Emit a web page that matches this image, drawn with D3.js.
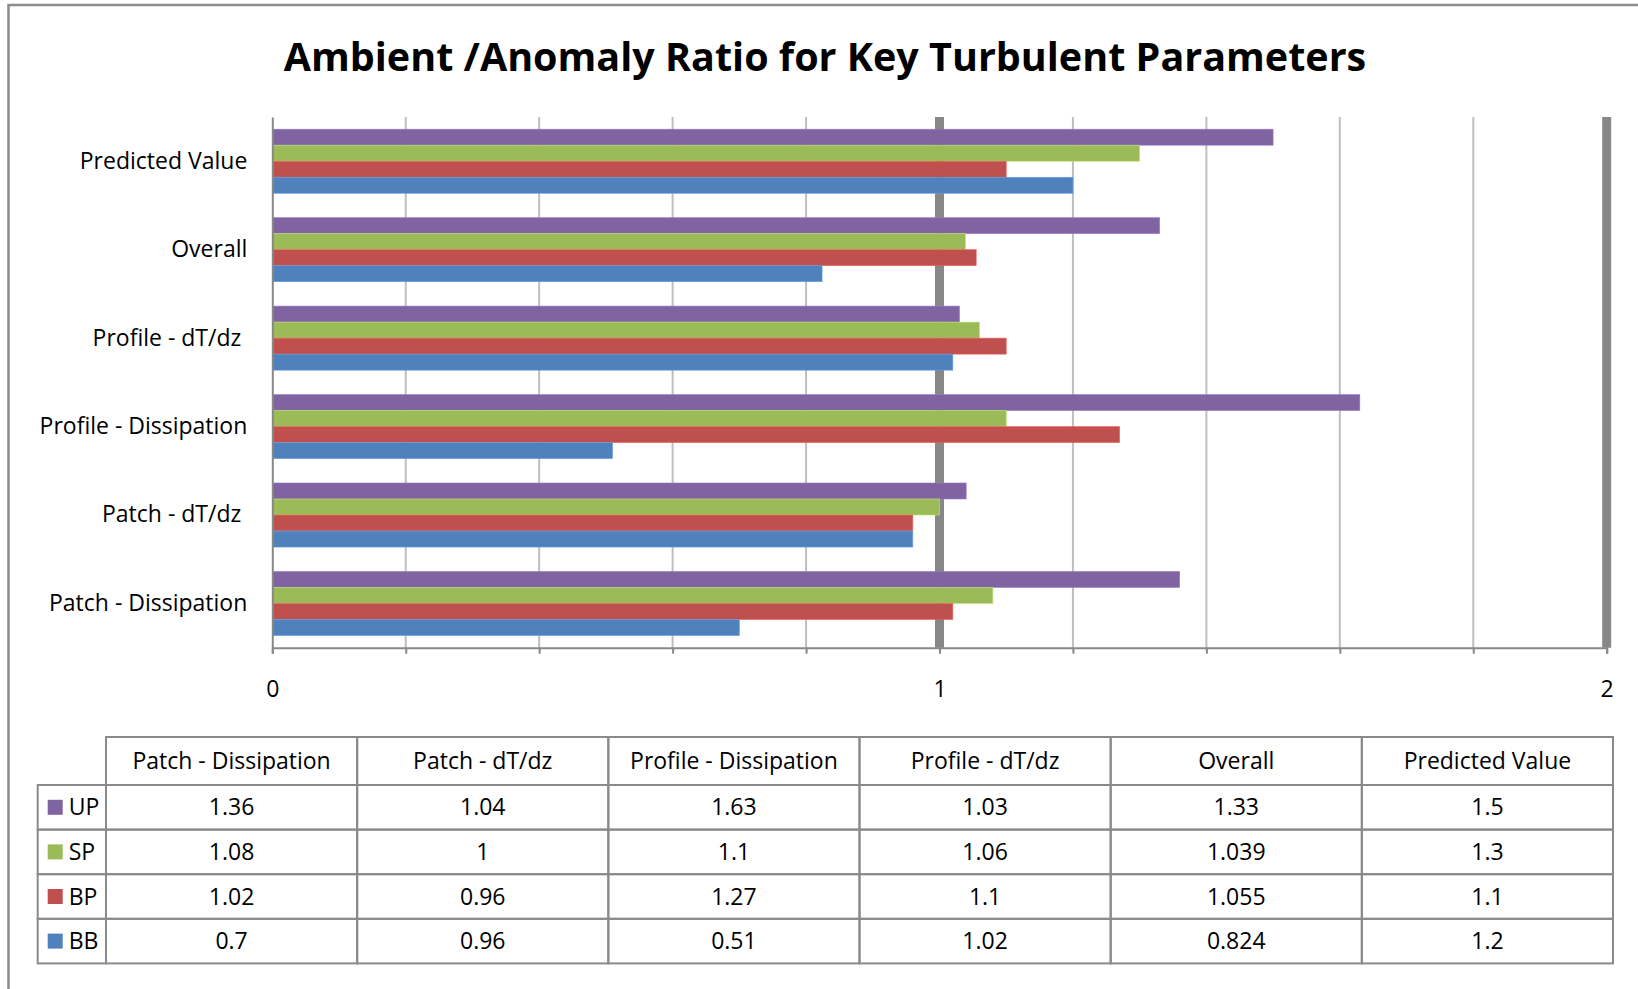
<!DOCTYPE html>
<html>
<head>
<meta charset="utf-8">
<script src="https://cdn.jsdelivr.net/npm/d3@7"></script>
<style>
  body { margin: 0; background: #fff; }
  text { font-family: "Open Sans", sans-serif; fill: #000; }
</style>
</head>
<body>
<div id="chart"></div>
<script>
// chart data
const categories = ['Patch - Dissipation', 'Patch - dT/dz', 'Profile - Dissipation', 'Profile - dT/dz', 'Overall', 'Predicted Value']
const seriesNames = ['UP', 'SP', 'BP', 'BB']
const UP = [1.36, 1.04, 1.63, 1.03, 1.33, 1.5]
const SP = [1.08, 1, 1.1, 1.06, 1.039, 1.3]
const BP = [1.02, 0.96, 1.27, 1.1, 1.055, 1.1]
const BB = [0.7, 0.96, 0.51, 1.02, 0.824, 1.2]
const UPLabels = ['1.36', '1.04', '1.63', '1.03', '1.33', '1.5']
const SPLabels = ['1.08', '1', '1.1', '1.06', '1.039', '1.3']
const BPLabels = ['1.02', '0.96', '1.27', '1.1', '1.055', '1.1']
const BBLabels = ['0.7', '0.96', '0.51', '1.02', '0.824', '1.2']
const xTicksMinor = [0, 0.2, 0.4, 0.6, 0.8, 1, 1.2, 1.4, 1.6, 1.8, 2]
const xTicksMajor = [0, 1, 2]
const title = 'Ambient /Anomaly Ratio for Key Turbulent Parameters'

const colors = { UP: '#8064A2', SP: '#9BBB59', BP: '#C0504D', BB: '#4F81BD' }
const values = { UP, SP, BP, BB }
const labels = { UP: UPLabels, SP: SPLabels, BP: BPLabels, BB: BBLabels }

const params = {
  fullWidth: 1638,
  fullHeight: 989,
  plotLeft: 272.3,
  plotRight: 1606.7,
  plotTop: 117,
  plotBottom: 647.7,
  tableLeft: 37.7,
  tableKey: 106,
  tableRight: 1613,
  tableTop: 737,
  headHeight: 48,
  rowHeight: 44.6,
  fontSize: 23
}

const svg = d3.select('#chart').append('svg')
  .attr('width', params.fullWidth)
  .attr('height', params.fullHeight)

// outer frame (only top and left edges show in the original)
svg.append('path')
  .attr('d', `M8.5,${params.fullHeight} V5 H${params.fullWidth}`)
  .attr('fill', 'none')
  .attr('stroke', '#8c8c8c')
  .attr('stroke-width', 2.5)

svg.append('text')
  .attr('x', 825)
  .attr('y', 71)
  .attr('text-anchor', 'middle')
  .attr('font-size', '39.5px')
  .attr('font-weight', 'bold')
  .text(title)

// scales
const x = d3.scaleLinear()
  .domain([0, 2])
  .range([params.plotLeft, params.plotRight])

const y = d3.scaleBand()
  .domain(categories.slice().reverse())
  .range([params.plotTop, params.plotBottom])

const ySeries = d3.scaleBand()
  .domain(seriesNames)
  .range([0, y.bandwidth()])
  .paddingOuter(0.76)

// gridlines
const grid = svg.append('g')
grid.selectAll('line.minor')
  .data(xTicksMinor.filter(d => xTicksMajor.indexOf(d) < 0))
  .enter().append('line')
  .attr('class', 'minor')
  .attr('x1', d => x(d)).attr('x2', d => x(d))
  .attr('y1', params.plotTop).attr('y2', params.plotBottom)
  .attr('stroke', '#bfbfbf')
  .attr('stroke-width', 2)

grid.selectAll('line.major')
  .data(xTicksMajor.filter(d => d > 0))
  .enter().append('line')
  .attr('class', 'major')
  .attr('x1', d => x(d)).attr('x2', d => x(d))
  .attr('y1', params.plotTop).attr('y2', params.plotBottom)
  .attr('stroke', '#878787')
  .attr('stroke-width', 9)

// bars
const rows = categories.map((c, i) => seriesNames.map(s => ({ cat: c, s, v: values[s][i] })))
svg.append('g').selectAll('g')
  .data(rows)
  .enter().append('g')
  .attr('transform', d => `translate(0,${y(d[0].cat)})`)
  .selectAll('rect')
  .data(d => d)
  .enter().append('rect')
  .attr('x', x(0))
  .attr('y', d => ySeries(d.s))
  .attr('width', d => x(d.v) - x(0))
  .attr('height', ySeries.bandwidth())
  .attr('fill', d => colors[d.s])
  .attr('stroke', d => d3.color(colors[d.s]).brighter(0.6))
  .attr('stroke-width', 0.6)

// x axis with ticks every 0.2, labels only on whole numbers
const xAxisGroup = svg.append('g')
  .attr('transform', `translate(0,${params.plotBottom})`)
const xAxisCall = d3.axisBottom(x)
  .tickValues(xTicksMinor)
  .tickSize(6)
  .tickFormat(d => xTicksMajor.indexOf(d) >= 0 ? d : '')
xAxisGroup.call(xAxisCall)
xAxisGroup.select('.domain').attr('stroke', '#888').attr('stroke-width', 2)
xAxisGroup.selectAll('.tick line').attr('stroke', '#888').attr('stroke-width', 2)
xAxisGroup.selectAll('.tick text')
  .attr('font-size', params.fontSize + 'px')
  .attr('font-family', '"Open Sans", sans-serif')
  .attr('fill', '#000')
  .attr('y', 33)

// category axis
const yAxisGroup = svg.append('g')
  .attr('transform', `translate(${params.plotLeft},0)`)
yAxisGroup.call(d3.axisLeft(y).tickSize(0).tickPadding(25))
yAxisGroup.select('.domain').attr('stroke', '#888').attr('stroke-width', 2)
yAxisGroup.selectAll('.tick text')
  .attr('font-size', params.fontSize + 'px')
  .attr('font-family', '"Open Sans", sans-serif')
  .attr('fill', '#000')
  .attr('dx', d => d.indexOf('dT/dz') >= 0 ? -6 : 0)

// data table
const colX = d3.scaleBand()
  .domain(categories)
  .range([params.tableKey, params.tableRight])
const rowY = d3.scaleBand()
  .domain(seriesNames)
  .range([params.tableTop + params.headHeight, params.tableTop + params.headHeight + params.rowHeight * seriesNames.length])

const table = svg.append('g')
const lineColor = '#8a8a8a'

// header cells
table.selectAll('rect.head')
  .data(categories)
  .enter().append('rect')
  .attr('class', 'head')
  .attr('x', d => colX(d))
  .attr('y', params.tableTop)
  .attr('width', colX.bandwidth())
  .attr('height', params.headHeight)
  .attr('fill', 'none')
  .attr('stroke', lineColor)
  .attr('stroke-width', 2)

table.selectAll('text.head')
  .data(categories)
  .enter().append('text')
  .attr('class', 'head')
  .attr('x', d => colX(d) + colX.bandwidth() / 2)
  .attr('y', params.tableTop + params.headHeight / 2)
  .attr('dy', '0.35em')
  .attr('text-anchor', 'middle')
  .attr('font-size', params.fontSize + 'px')
  .text(d => d)

// body rows
const bodyRows = table.selectAll('g.row')
  .data(seriesNames)
  .enter().append('g')
  .attr('class', 'row')
  .attr('transform', d => `translate(0,${rowY(d)})`)

bodyRows.append('rect')
  .attr('x', params.tableLeft)
  .attr('width', params.tableKey - params.tableLeft)
  .attr('height', rowY.bandwidth())
  .attr('fill', 'none')
  .attr('stroke', lineColor)
  .attr('stroke-width', 2)

bodyRows.append('rect')
  .attr('x', params.tableLeft + 10)
  .attr('y', rowY.bandwidth() / 2 - 7.5)
  .attr('width', 15)
  .attr('height', 15)
  .attr('fill', d => colors[d])

bodyRows.append('text')
  .attr('x', params.tableLeft + 31)
  .attr('y', rowY.bandwidth() / 2)
  .attr('dy', '0.35em')
  .attr('font-size', params.fontSize + 'px')
  .text(d => d)

bodyRows.selectAll('rect.cell')
  .data(s => categories.map((c, i) => ({ c, s, label: labels[s][i] })))
  .enter().append('rect')
  .attr('class', 'cell')
  .attr('x', d => colX(d.c))
  .attr('width', colX.bandwidth())
  .attr('height', rowY.bandwidth())
  .attr('fill', 'none')
  .attr('stroke', lineColor)
  .attr('stroke-width', 2)

bodyRows.selectAll('text.cell')
  .data(s => categories.map((c, i) => ({ c, s, label: labels[s][i] })))
  .enter().append('text')
  .attr('class', 'cell')
  .attr('x', d => colX(d.c) + colX.bandwidth() / 2)
  .attr('y', rowY.bandwidth() / 2)
  .attr('dy', '0.35em')
  .attr('text-anchor', 'middle')
  .attr('font-size', params.fontSize + 'px')
  .text(d => d.label)
</script>
</body>
</html>
